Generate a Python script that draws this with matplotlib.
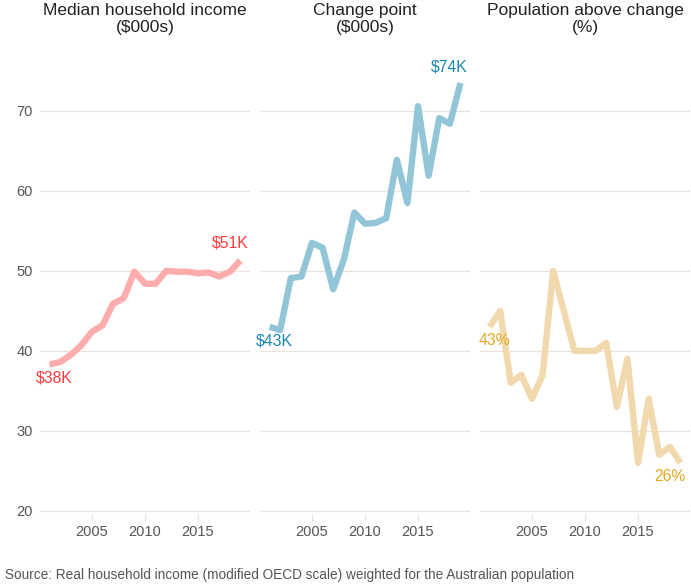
import matplotlib
matplotlib.use("Agg")
import matplotlib.pyplot as plt

plt.rcParams['font.family'] = ['Liberation Sans', 'DejaVu Sans']

# data
years = list(range(2001, 2020))
median_income = [38.3, 38.6, 39.5, 40.7, 42.4, 43.2, 45.9, 46.6, 49.9, 48.4,
                 48.4, 50.0, 49.9, 49.9, 49.7, 49.8, 49.3, 49.9, 51.3]
change_point = [43.0, 42.6, 49.1, 49.3, 53.5, 52.9, 47.7, 51.4, 57.3, 55.9,
                56.0, 56.6, 63.9, 58.5, 70.6, 61.9, 69.1, 68.4, 73.5]
pop_above = [43, 45, 36, 37, 34, 37, 50, 45, 40, 40,
             40, 41, 33, 39, 26, 34, 27, 28, 26]

titles = ["Median household income\n($000s)", "Change point\n($000s)",
          "Population above change\n(%)"]
start_labels = ["$38K", "$43K", "43%"]
end_labels = ["$51K", "$74K", "26%"]
series = [median_income, change_point, pop_above]

line_colors = ['#FFACAC', '#93C5D8', '#F1D9AD']
text_colors = ['#FF3B3B', '#1A87B2', '#E6A824']
end_offsets = [(-10, 18), (-11, 16), (-11, -14)]

grid_col = '#EBE2DC'
tick_col = '#555555'

fig = plt.figure(figsize=(6.91, 5.85), dpi=100, facecolor='white')
W, H = 691.0, 585.0
lefts = [40, 260, 480]
bottom_px, top_px = 514, 55

for i in range(3):
    ax = fig.add_axes([lefts[i] / W, (H - bottom_px) / H,
                       210 / W, (bottom_px - top_px) / H])
    ax.set_xlim(2000.1, 2019.9)
    ax.set_ylim(19.6, 77)
    ax.set_yticks([20, 30, 40, 50, 60, 70])
    ax.set_xticks([2005, 2010, 2015])
    ax.grid(axis='y', color=grid_col, linewidth=0.9)
    ax.set_axisbelow(True)
    for s in ax.spines.values():
        s.set_visible(False)
    ax.tick_params(axis='x', length=5, width=0.9, color=grid_col,
                   labelcolor=tick_col, labelsize=10.5, pad=3)
    ax.tick_params(axis='y', length=0, labelcolor=tick_col, labelsize=10.5, pad=5)
    if i > 0:
        ax.set_yticklabels([])

    vals = series[i]
    ax.plot(years, vals, color=line_colors[i], linewidth=4.6,
            solid_joinstyle='round', solid_capstyle='butt')

    ax.annotate(start_labels[i], (years[0], vals[0]), xytext=(5, -14),
                textcoords='offset pixels', ha='center', va='center',
                color=text_colors[i], fontsize=11.3)
    ax.annotate(end_labels[i], (years[-1], vals[-1]), xytext=end_offsets[i],
                textcoords='offset pixels', ha='center', va='center',
                color=text_colors[i], fontsize=11.3)

    fig.text((lefts[i] + 105) / W, 1 - 3 / H, titles[i], ha='center', va='top',
             fontsize=12.5, color='#222222', linespacing=1.2)

fig.text(5 / W, 1 - 575 / H,
         "Source: Real household income (modified OECD scale) weighted for the Australian population",
         ha='left', va='center', fontsize=9.8, color='#555555')

fig.savefig('out.png', dpi=100, facecolor='white')
